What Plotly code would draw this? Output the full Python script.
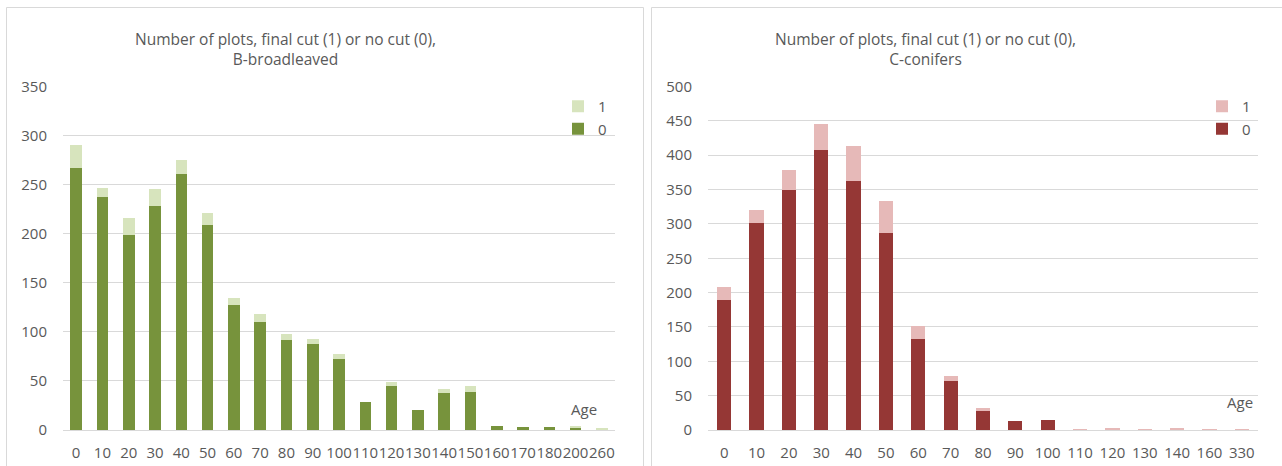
import plotly.graph_objects as go

W, H = 1282, 466

# ---- data: B-broadleaved ----
b_ages = ["0", "10", "20", "30", "40", "50", "60", "70", "80", "90", "100",
          "110", "120", "130", "140", "150", "160", "170", "180", "200", "260"]
b_nocut = [267, 237, 199, 228, 261, 209, 127, 110, 92, 88, 72,
           29, 45, 20, 38, 39, 4, 3, 3, 3, 0]
b_cut = [23, 10, 17, 18, 14, 12, 7, 8, 6, 5, 5,
         0, 4, 0, 4, 6, 0, 0, 0, 1, 2]

# ---- data: C-conifers ----
c_ages = ["0", "10", "20", "30", "40", "50", "60", "70", "80", "90", "100",
          "110", "120", "130", "140", "160", "330"]
c_nocut = [189, 302, 350, 407, 362, 287, 132, 71, 27, 13, 15,
           0, 1, 0, 1, 0, 0]
c_cut = [19, 18, 29, 39, 52, 46, 20, 8, 5, 0, 0,
         2, 2, 2, 2, 2, 2]

GREEN_D, GREEN_L = "#77933C", "#D7E4BD"
RED_D, RED_L = "#953735", "#E6B9B8"
TXT = "#595959"
GRID = "#D9D9D9"
FONT = "Open Sans"

def px(x):
    return x / W

def py(y):
    return 1 - y / H

fig = go.Figure()

fig.add_bar(x=b_ages, y=b_nocut, name="0", marker_color=GREEN_D, marker_line_width=0,
            xaxis="x", yaxis="y", legend="legend")
fig.add_bar(x=b_ages, y=b_cut, name="1", marker_color=GREEN_L, marker_line_width=0,
            xaxis="x", yaxis="y", legend="legend")
fig.add_bar(x=c_ages, y=c_nocut, name="0", marker_color=RED_D, marker_line_width=0,
            xaxis="x2", yaxis="y2", legend="legend2")
fig.add_bar(x=c_ages, y=c_cut, name="1", marker_color=RED_L, marker_line_width=0,
            xaxis="x2", yaxis="y2", legend="legend2")

ydom = [py(430), py(86.5)]

xcommon = dict(type="category", showgrid=False, zeroline=False, showline=False,
               tickangle=0, ticks="", ticklabelstandoff=12, automargin=False,
               tickfont=dict(family=FONT, size=15, color=TXT), fixedrange=True)
ycommon = dict(showgrid=True, gridcolor=GRID, gridwidth=1, zeroline=True,
               zerolinecolor=GRID, zerolinewidth=1, showline=False, ticks="",
               ticklabelstandoff=15, automargin=False,
               tickfont=dict(family=FONT, size=15, color=TXT), fixedrange=True)

legcommon = dict(traceorder="reversed", bgcolor="rgba(0,0,0,0)",
                 font=dict(family=FONT, size=15, color=TXT),
                 itemwidth=30, tracegroupgap=0, xanchor="left", yanchor="top")

fig.update_layout(
    template="none",
    width=W, height=H, margin=dict(l=0, r=0, t=0, b=0, autoexpand=False),
    paper_bgcolor="white", plot_bgcolor="white",
    barmode="stack", bargap=0.56,
    font=dict(family=FONT, color=TXT),
    xaxis=dict(domain=[px(63), px(615)], anchor="y", **xcommon),
    yaxis=dict(domain=ydom, anchor="x", range=[0, 350], dtick=50, **ycommon),
    xaxis2=dict(domain=[px(708), px(1258)], anchor="y2", **xcommon),
    yaxis2=dict(domain=ydom, anchor="x2", range=[0, 500], dtick=50, **ycommon),
    legend=dict(x=px(558), y=py(90), **legcommon),
    legend2=dict(x=px(1202), y=py(90), **legcommon),
    shapes=[
        dict(type="rect", xref="paper", yref="paper",
             x0=px(6.5), x1=px(643.5), y0=-0.1, y1=py(7.5),
             line=dict(color=GRID, width=1), layer="below"),
        dict(type="rect", xref="paper", yref="paper",
             x0=px(651.5), x1=1.1, y0=-0.1, y1=py(7.5),
             line=dict(color=GRID, width=1), layer="below"),
    ],
    annotations=[
        dict(text="Number of plots, final cut (1) or no cut (0),<br>B-broadleaved",
             xref="paper", yref="paper", x=px(285), y=py(49), showarrow=False,
             xanchor="center", yanchor="middle",
             font=dict(family=FONT, size=15.5, color=TXT)),
        dict(text="Number of plots, final cut (1) or no cut (0),<br>C-conifers",
             xref="paper", yref="paper", x=px(926), y=py(49), showarrow=False,
             xanchor="center", yanchor="middle",
             font=dict(family=FONT, size=15.5, color=TXT)),
        dict(text="Age", xref="paper", yref="paper", x=px(584), y=py(409),
             showarrow=False, xanchor="center", yanchor="middle",
             font=dict(family=FONT, size=15, color=TXT)),
        dict(text="Age", xref="paper", yref="paper", x=px(1240), y=py(402),
             showarrow=False, xanchor="center", yanchor="middle",
             font=dict(family=FONT, size=15, color=TXT)),
    ],
)

fig.write_html("out.html")
